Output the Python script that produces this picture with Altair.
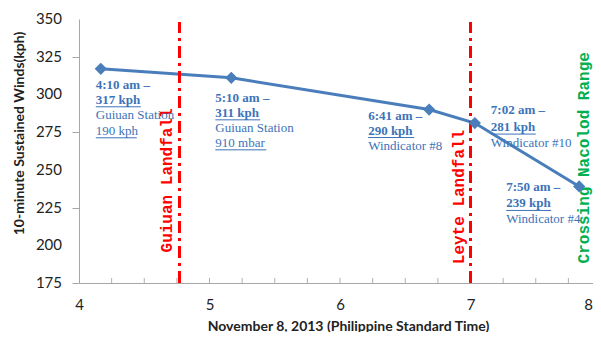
import altair as alt
import pandas as pd

# ---- data ----
hours = [4.167, 5.167, 6.683, 7.033, 7.833]      # 4:10, 5:10, 6:41, 7:02, 7:50
winds = [317, 311, 290, 281, 239]

landfall_x = [4.77, 7.0]
landfall_text = ["Guiuan Landfall", "Leyte Landfall"]
landfall_text_y = [243, 232]

crossing_x = 8.0
crossing_y = 258
crossing_text = "Crossing Nacolod Range"

y_ticks = [175, 200, 225, 250, 275, 300, 325, 350]
x_ticks = [4, 5, 6, 7]
x_last = 8
x_minor = [4.25, 4.5, 4.75, 5, 5.25, 5.5, 5.75, 6, 6.25, 6.5, 6.75, 7, 7.25, 7.5, 7.75]

# annotation lines: (point index, text, kind, dx, dy, underline width)
ann = [
    (0, "4:10 am \u2013", "b", -5, 16, 0),
    (0, "317 kph", "b", -5, 31, 45),
    (0, "Guiuan Station", "n", -5, 46, 0),
    (0, "190 kph", "n", -5, 62, 41),
    (1, "5:10 am \u2013", "b", -16, 20, 0),
    (1, "311 kph", "b", -16, 35, 45),
    (1, "Guiuan Station", "n", -16, 50, 0),
    (1, "910 mbar", "n", -16, 65, 51),
    (2, "6:41 am \u2013", "b", -61, 6, 0),
    (2, "290 kph", "b", -61, 21, 46),
    (2, "Windicator #8", "n", -61, 36, 0),
    (3, "7:02 am \u2013", "b", 16, -13, 0),
    (3, "281 kph", "b", 16, 4, 45),
    (3, "Windicator #10", "n", 16, 20, 0),
    (4, "7:50 am \u2013", "b", -73, 1, 0),
    (4, "239 kph", "b", -73, 17, 45),
    (4, "Windicator #4", "n", -73, 33, 0),
]

BLUE = "#4a7ebb"
TXT_BLUE = "#3d73b8"
RED = "#ff0000"
GREEN = "#00b050"
AX = "#222222"

df = pd.DataFrame({"h": hours, "w": winds})

xscale = alt.Scale(domain=[4, 8], nice=False, zero=False)
yscale = alt.Scale(domain=[175, 350], nice=False, zero=False)

xaxis = alt.Axis(values=x_ticks, format="d", title="November 8, 2013 (Philippine Standard Time)")
yaxis = alt.Axis(values=y_ticks, labels=False, title="10-minute Sustained Winds(kph)")

X = lambda f: alt.X(f, scale=xscale)
Y = lambda f: alt.Y(f, scale=yscale)

base = alt.Chart(df)

line = base.mark_line(color=BLUE, strokeWidth=3).encode(
    x=alt.X("h:Q", scale=xscale, axis=xaxis),
    y=alt.Y("w:Q", scale=yscale, axis=yaxis),
)
pts = base.mark_point(shape="diamond", filled=True, size=150, color=BLUE, opacity=1).encode(
    x=X("h:Q"), y=Y("w:Q")
)

# y tick labels drawn through the y scale
ylab = alt.Chart(pd.DataFrame({"v": y_ticks})).mark_text(
    font="Lato", fontSize=15, color=AX, align="right", baseline="middle", dx=-17
).encode(x=alt.datum(4), y=Y("v:Q"), text=alt.Text("v:Q", format="d"))

minor = alt.Chart(pd.DataFrame({"m": x_minor})).mark_rule(
    color="#b0b0b0", strokeWidth=1, y2Offset=-5
).encode(
    x=X("m:Q"), y=alt.datum(175), y2=alt.datum(175)
)

last_label = alt.Chart(pd.DataFrame({"x": [x_last], "t": [str(x_last)]})).mark_text(
    font="Lato", fontSize=15, color=AX, align="right", baseline="top", dx=-8, dy=15
).encode(x=X("x:Q"), y=alt.datum(175), text="t:N")

lf = pd.DataFrame({"x": landfall_x, "t": landfall_text, "ty": landfall_text_y})
lf_rules = alt.Chart(lf).mark_rule(color=RED, strokeWidth=3, strokeDash=[12, 5, 3, 5]).encode(
    x=X("x:Q"), y=alt.datum(175), y2=alt.datum(348)
)
lf_text = alt.Chart(lf).mark_text(
    angle=270, color=RED, font="Liberation Mono", fontSize=16, fontWeight="bold",
    align="center", baseline="middle", dy=-12,
).encode(x=X("x:Q"), y=Y("ty:Q"), text="t:N")

cr = pd.DataFrame({"x": [crossing_x], "y": [crossing_y], "t": [crossing_text]})
cr_text = alt.Chart(cr).mark_text(
    angle=270, color=GREEN, font="Liberation Mono", fontSize=16, fontWeight="bold",
    align="center", baseline="middle", dy=-17,
).encode(x=X("x:Q"), y=Y("y:Q"), text="t:N")

layers = [line, minor, ylab, lf_rules, lf_text, cr_text, pts, last_label]

for idx, text, kind, dx, dy, uw in ann:
    d = pd.DataFrame({"x": [hours[idx]], "y": [winds[idx]], "t": [text]})
    layers.append(
        alt.Chart(d).mark_text(
            align="left", baseline="middle", dx=dx, dy=dy,
            font="Liberation Serif", fontSize=13,
            fontWeight="bold" if kind == "b" else "normal", color=TXT_BLUE,
        ).encode(x=X("x:Q"), y=Y("y:Q"), text="t:N")
    )
    if uw:
        layers.append(
            alt.Chart(d).mark_rule(
                color=TXT_BLUE, strokeWidth=1, xOffset=dx, x2Offset=dx + uw,
                yOffset=dy + 7,
            ).encode(x=X("x:Q"), x2="x:Q", y=Y("y:Q"))
        )

chart = alt.layer(*layers).properties(
    width=522, height=264,
    autosize=alt.AutoSizeParams(type="none"),
    padding={"left": 71, "top": 11, "right": -8, "bottom": 49},
    background="white",
).configure_view(stroke=None).configure_axis(
    grid=False, labelOverlap=False, labelFlush=False,
    domainColor="#a6a6a6", tickColor="#a6a6a6",
    labelFont="Lato", labelFontSize=15, labelColor=AX,
    titleFont="Lato", titleFontSize=14, titleFontWeight="bold", titleColor=AX,
).configure_axisX(
    ticks=False, labelPadding=14,
    titleBaseline="middle", titleY=43, titleX=269, titleAlign="center",
).configure_axisY(
    tickSize=7, labelPadding=9,
    titleBaseline="middle", titleX=-60, titleY=114, titleAlign="center", titleAngle=270,
)

chart.save("out.html", embed_options={"renderer": "svg", "actions": False})
